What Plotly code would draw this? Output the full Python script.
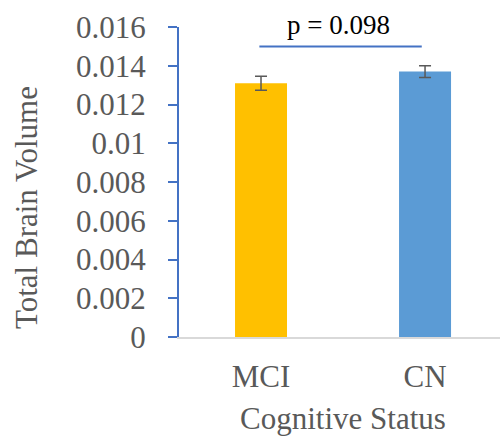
import plotly.graph_objects as go

categories = ["MCI", "CN"]
values = [0.0131, 0.0137]
errors = [0.00036, 0.0003]
bar_colors = ["#FFC000", "#5B9BD5"]
y_ticks = [0, 0.002, 0.004, 0.006, 0.008, 0.01, 0.012, 0.014, 0.016]
y_tick_labels = ["0", "0.002", "0.004", "0.006", "0.008", "0.01", "0.012", "0.014", "0.016"]
p_label = "p = 0.098"
p_line_y = 0.015

FONT = "Liberation Serif, Times New Roman, serif"
GRAY = "#595959"

fig = go.Figure()
fig.add_trace(go.Bar(
    x=[0, 1], y=values, width=0.317,
    marker=dict(color=bar_colors, line=dict(width=0)),
    error_y=dict(type="data", array=errors, visible=True, color=GRAY,
                 thickness=1.5, width=6),
))

fig.add_shape(type="line", xref="x", yref="y", x0=-0.01, x1=0.98,
              y0=p_line_y, y1=p_line_y, line=dict(color="#4472C4", width=2))
fig.add_annotation(x=0.47, y=1.006, xref="x", yref="paper", text=p_label,
                   showarrow=False, font=dict(family=FONT, size=27, color="black"),
                   xanchor="center", yanchor="middle")

fig.add_annotation(x=-0.4766, y=0.416, xref="paper", yref="paper",
                   text="Total Brain Volume", textangle=-90, showarrow=False,
                   font=dict(family=FONT, size=31, color=GRAY),
                   xanchor="center", yanchor="middle")
fig.add_annotation(x=0.511, y=-0.2645, xref="paper", yref="paper",
                   text="Cognitive Status", showarrow=False,
                   font=dict(family=FONT, size=31, color=GRAY),
                   xanchor="center", yanchor="middle")

fig.update_layout(
    width=500, height=436,
    margin=dict(l=179, r=0, t=27, b=99),
    plot_bgcolor="white", paper_bgcolor="white",
    showlegend=False,
    font=dict(family=FONT, color=GRAY),
    xaxis=dict(
        range=[-0.5, 1.457], tickvals=[0, 1], ticktext=categories,
        showgrid=False, zeroline=False, showline=True,
        linecolor="#D9D9D9", linewidth=2, ticks="",
        tickfont=dict(family=FONT, size=31, color=GRAY),
        ticklabelstandoff=11,
    ),
    yaxis=dict(
        range=[0, 0.016], tickvals=y_ticks, ticktext=y_tick_labels,
        showgrid=False, zeroline=False, showline=True,
        linecolor="#4472C4", linewidth=2,
        ticks="outside", ticklen=9, tickwidth=2, tickcolor="#4472C4",
        tickfont=dict(family=FONT, size=31, color=GRAY),
        ticklabelstandoff=16,
    ),
)

fig.write_html("out.html")
